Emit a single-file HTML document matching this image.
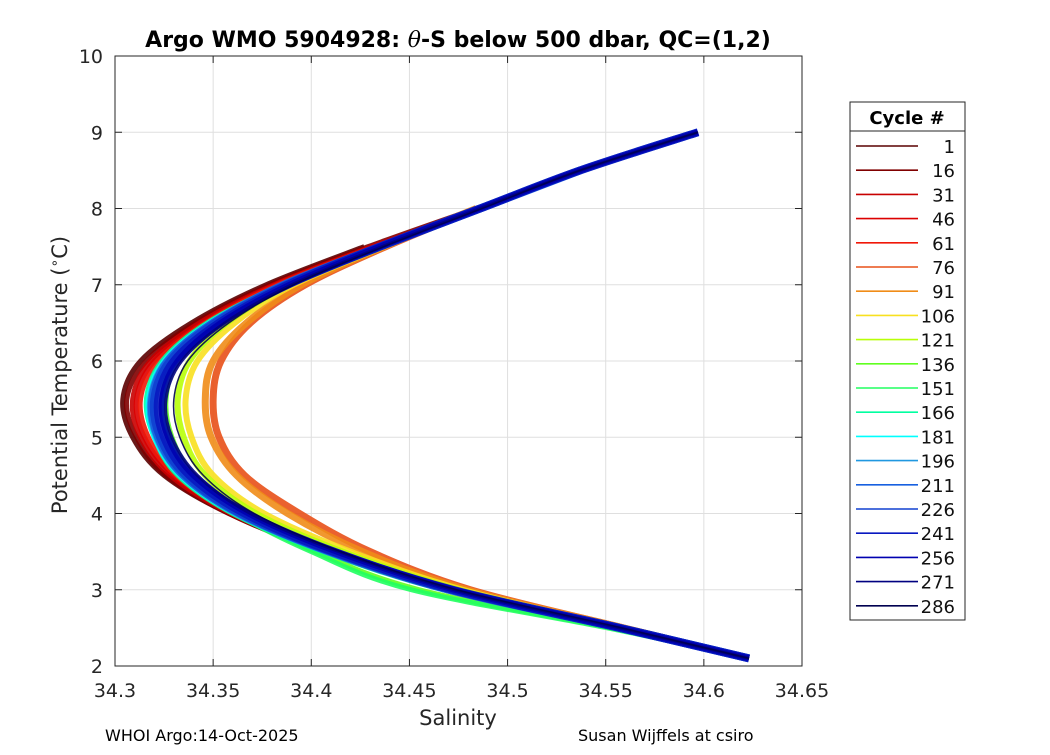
<!DOCTYPE html>
<html><head><meta charset="utf-8"><style>
body{margin:0;background:#fff;}
svg text{font-family:"DejaVu Sans","Liberation Sans",sans-serif;}
</style></head><body>
<svg id="chart" width="1050" height="750" xmlns="http://www.w3.org/2000/svg">
<rect width="1050" height="750" fill="#fff"/>
<g id="grid"></g>
<g id="lines"></g>
<rect x="115" y="56" width="687" height="610" fill="none" stroke="#262626" stroke-width="1"/>
<g id="ticks"></g>
<text x="458" y="47" text-anchor="middle" font-size="22" font-weight="bold">Argo WMO 5904928: <tspan font-style="italic" font-weight="normal" font-family="DejaVu Serif,serif">θ</tspan>-S below 500 dbar,  QC=(1,2)</text>
<text x="458" y="725" text-anchor="middle" font-size="21" fill="#262626">Salinity</text>
<text transform="translate(67,375) rotate(-90)" text-anchor="middle" font-size="21" fill="#262626">Potential Temperature (<tspan baseline-shift="super" font-size="14">∘</tspan>C)</text>
<text x="105" y="741" font-size="16">WHOI Argo:14-Oct-2025</text>
<text x="578" y="741" font-size="16">Susan Wijffels at csiro</text>
<g id="legend"></g>
</svg>
<script>
const thetaLevels=[9,8.5,8,7.5,7,6.5,6,5.5,5,4.5,4,3.5,3,2.5,2.1];
const baseSal=[34.597,34.537,34.486,34.435,34.387,34.351,34.328,34.320,34.323,34.336,34.364,34.410,34.471,34.557,34.623];
const cycles=[1,16,31,46,61,76,91,106,121,136,151,166,181,196,211,226,241,256,271,286];
const colors=["#5a0000","#800000","#c80000","#dc0000","#f01808","#e85018","#f08c18","#f8e020","#b8ff08","#60ff20","#20ff60","#00ffa0","#00ffff","#2098e0","#1860e0","#1040d0","#0818c0","#0000b0","#000080","#000050"];
const N=null;
const salOffsets=[
[N,N,N,-0.008,-0.010,-0.012,-0.015,-0.016,-0.014,-0.011,-0.006,-0.004,-0.002,0,0],
[N,N,-0.002,-0.006,-0.008,-0.010,-0.012,-0.014,-0.012,-0.010,-0.006,-0.004,-0.003,0,0],
[N,N,0,-0.004,-0.006,-0.008,-0.010,-0.011,-0.010,-0.008,-0.005,-0.004,-0.003,0,0],
[N,N,0,-0.003,-0.005,-0.006,-0.008,-0.009,-0.008,-0.006,-0.004,-0.003,-0.002,0,0],
[N,N,0,-0.002,-0.004,-0.005,-0.006,-0.007,-0.006,-0.005,-0.003,-0.002,-0.002,0,0],
[N,N,-0.001,0.003,0.010,0.018,0.026,0.030,0.030,0.030,0.030,0.020,0.010,0.002,0],
[N,N,-0.002,0.002,0.008,0.016,0.022,0.026,0.026,0.026,0.024,0.016,0.008,0.002,0],
[N,N,0,0.002,0.004,0.010,0.014,0.016,0.016,0.014,0.012,0.010,0.006,0.001,0],
[N,N,0,0.001,0.002,0.006,0.010,0.012,0.012,0.010,0.008,0.006,0.004,0.001,0],
[N,N,0,0,0,0.002,0.004,0.006,0.006,0.004,0.000,-0.008,-0.016,-0.004,0],
[N,N,0,0,0,0,0.002,0.004,0.004,0.002,-0.002,-0.010,-0.020,-0.006,0],
[N,N,0,-0.001,-0.002,-0.004,-0.004,-0.004,-0.003,-0.004,-0.004,-0.004,-0.004,-0.001,0],
[N,N,0,-0.001,-0.002,-0.003,-0.003,-0.003,-0.003,-0.003,-0.003,-0.003,-0.003,-0.001,0],
[N,0,0,0,-0.001,-0.002,-0.002,-0.002,-0.002,-0.002,-0.002,-0.002,-0.002,0,0],
[N,0,0,0,-0.001,-0.001,-0.001,-0.001,-0.001,-0.001,-0.001,-0.001,-0.001,0,0],
[0,0,0,0,0,0,0,0,0,0,0,0,0,0,0],
[0,0,0,0,0.001,0.002,0.002,0.002,0.002,0.002,0.002,0.001,0.001,0,0],
[0,0,0,0,0.002,0.003,0.004,0.004,0.004,0.004,0.004,0.003,0.002,0,0],
[0,0,0,0.001,0.003,0.005,0.006,0.006,0.006,0.006,0.005,0.004,0.002,0,0],
[0,0,0.001,0.002,0.004,0.007,0.009,0.010,0.010,0.009,0.007,0.005,0.003,0.001,0]
];
const xTicks=[34.3,34.35,34.4,34.45,34.5,34.55,34.6,34.65];
const yTicks=[2,3,4,5,6,7,8,9,10];

const NS="http://www.w3.org/2000/svg";
const X0=115,X1=802,Y0=666,Y1=56;
const xs=s=>X0+(s-34.3)/(0.35)*(X1-X0);
const ys=t=>Y0-(t-2)/8*(Y0-Y1);
function mk(tag,attrs,parent){const e=document.createElementNS(NS,tag);for(const k in attrs)e.setAttribute(k,attrs[k]);parent.appendChild(e);return e;}
const grid=document.getElementById('grid'),ticks=document.getElementById('ticks');
xTicks.forEach(v=>{const x=xs(v);
 const g=mk('line',{x1:x,x2:x,y1:Y1,y2:Y0,stroke:'#dfdfdf'},grid);
 
 
 mk('line',{x1:x,x2:x,y1:Y0,y2:Y0-7,stroke:'#262626'},ticks);
 mk('line',{x1:x,x2:x,y1:Y1,y2:Y1+7,stroke:'#262626'},ticks);
 const t=mk('text',{x:x,y:Y0+31,'text-anchor':'middle','font-size':19,fill:'#262626'},ticks);
 t.textContent=v.toString();
 
 
});
yTicks.forEach(v=>{const y=ys(v);
 const g=mk('line',{x1:X0,x2:X1,y1:y,y2:y,stroke:'#dfdfdf'},grid);
 
 
 mk('line',{x1:X0,x2:X0+7,y1:y,y2:y,stroke:'#262626'},ticks);
 mk('line',{x1:X1,x2:X1-7,y1:y,y2:y,stroke:'#262626'},ticks);
 const t=mk('text',{x:X0-12,y:y+7,'text-anchor':'end','font-size':19,fill:'#262626'},ticks);
 t.textContent=v;
 
 
});
function smoothPath(pts){let d='M'+pts[0][0]+','+pts[0][1];
 for(let i=0;i<pts.length-1;i++){const p0=pts[i-1]||pts[i],p1=pts[i],p2=pts[i+1],p3=pts[i+2]||p2;
  const c1=[p1[0]+(p2[0]-p0[0])/6,p1[1]+(p2[1]-p0[1])/6],c2=[p2[0]-(p3[0]-p1[0])/6,p2[1]-(p3[1]-p1[1])/6];
  d+=' C'+c1+' '+c2+' '+p2;}return d;}
const lines=document.getElementById('lines');
const widths=[5,5,5,5,5,7,7,6,6,5,5,5,5,6,8,8,8,6,3,1.5];
cycles.forEach((c,i)=>{const pts=[];
 thetaLevels.forEach((t,j)=>{const o=salOffsets[i][j];if(o!==null)pts.push([xs(baseSal[j]+o),ys(t)]);});
 const p=mk('path',{d:smoothPath(pts),fill:'none',stroke:colors[i],'stroke-width':widths[i],'stroke-opacity':0.9,'stroke-linejoin':'round'},lines);
 
 
});
const lg=document.getElementById('legend');
mk('rect',{x:850,y:102,width:115,height:518,fill:'#fff',stroke:'#262626'},lg);
mk('line',{x1:850,x2:965,y1:131,y2:131,stroke:'#262626'},lg);
const hd=mk('text',{x:907,y:124,'text-anchor':'middle','font-size':18,'font-weight':'bold'},lg);
hd.textContent='Cycle #';


cycles.forEach((c,i)=>{const y=146+i*24.2;
 mk('line',{x1:856,x2:918,y1:y,y2:y,stroke:colors[i],'stroke-width':1.6},lg);
 const t=mk('text',{x:955,y:y+7,'text-anchor':'end','font-size':18,fill:'#111'},lg);
 t.textContent=c;
 
 
});
</script>
</body></html>
